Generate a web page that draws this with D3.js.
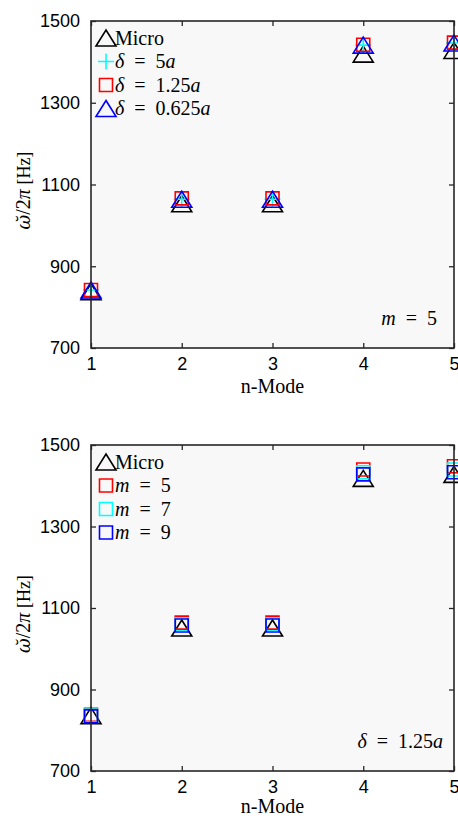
<!DOCTYPE html>
<html><head><meta charset="utf-8">
<script src="https://cdn.jsdelivr.net/npm/d3@7"></script>
<style>html,body{margin:0;padding:0;background:#fff;}svg{display:block;}</style>
</head><body>
<svg id="c" width="458" height="818"></svg>
<script>
const modes = [1, 2, 3, 4, 5];
const xTicks = [1, 2, 3, 4, 5];
const yTicks = [700, 900, 1100, 1300, 1500];

// top panel (m = 5)
const topMicro = [838, 1053, 1053, 1419, 1428];
const topDelta5a = [842, 1064, 1064, 1441, 1446];
const topDelta125a = [842, 1066, 1066, 1442, 1447];
const topDelta0625a = [842, 1064, 1064, 1441, 1446];

// bottom panel (delta = 1.25a)
const botMicro = [836, 1051, 1051, 1418, 1428];
const botM5 = [838, 1064, 1064, 1440, 1448];
const botM7 = [836, 1060, 1060, 1433, 1440];
const botM9 = [834, 1057, 1057, 1428, 1433];

const svg = d3.select("#c");
const sansFont = "'Liberation Sans', Arial, sans-serif";
const serifFont = "'Liberation Serif', 'DejaVu Serif', serif";
const SP = "\u2002";

function markerPath(type) {
  if (type === "tri") return "M0,-8L10,8L-10,8Z";
  if (type === "sq") return "M-6.5,-6.5H6.5V6.5H-6.5Z";
  if (type === "plus") return "M-8,0H8M0,-8V8";
}

function panel(cfg) {
  const g = svg.append("g");
  const x = d3.scaleLinear().domain([1, 5]).range([cfg.left, cfg.right]);
  const y = d3.scaleLinear().domain([700, 1500]).range([cfg.bottom, cfg.top]);

  g.append("rect").attr("x", cfg.left).attr("y", cfg.top)
    .attr("width", cfg.right - cfg.left).attr("height", cfg.bottom - cfg.top)
    .attr("fill", "#f8f8f8");

  cfg.series.forEach(s => {
    g.append("g").selectAll("path").data(s.values).join("path")
      .attr("transform", (d, i) => `translate(${x(modes[i])},${y(d)})`)
      .attr("d", markerPath(s.type))
      .attr("fill", "none").attr("stroke", s.color).attr("stroke-width", 1.6);
  });

  const axColor = "#262626";
  const ax = g.append("g");
  const bottomAxis = d3.axisBottom(x).tickValues(xTicks).tickSize(-5).tickPadding(9).tickFormat(d3.format("d"));
  const topAxis = d3.axisTop(x).tickValues(xTicks).tickSize(-5).tickFormat("");
  const leftAxis = d3.axisLeft(y).tickValues(yTicks).tickSize(-5).tickPadding(11).tickFormat(d3.format("d"));
  const rightAxis = d3.axisRight(y).tickValues(yTicks).tickSize(-5).tickFormat("");
  const gb = ax.append("g").attr("transform", `translate(0,${cfg.bottom})`).call(bottomAxis);
  const gt = ax.append("g").attr("transform", `translate(0,${cfg.top})`).call(topAxis);
  const gl = ax.append("g").attr("transform", `translate(${cfg.left},0)`).call(leftAxis);
  const gr = ax.append("g").attr("transform", `translate(${cfg.right},0)`).call(rightAxis);
  [gb, gt, gl, gr].forEach(a => {
    a.select(".domain").remove();
    a.selectAll("line").attr("stroke", axColor).attr("stroke-width", 1.3);
    a.selectAll("text").attr("fill", "#000").style("font-family", sansFont).style("font-size", "18px");
  });
  ax.append("rect").attr("x", cfg.left).attr("y", cfg.top)
    .attr("width", cfg.right - cfg.left).attr("height", cfg.bottom - cfg.top)
    .attr("fill", "none").attr("stroke", axColor).attr("stroke-width", 1.6);

  g.append("text").attr("x", (cfg.left + cfg.right) / 2).attr("y", cfg.bottom + cfg.xlOff)
    .attr("text-anchor", "middle").style("font-family", serifFont).style("font-size", "20px")
    .text("n-Mode");

  const yl = g.append("text")
    .attr("transform", `translate(30,${(cfg.top + cfg.bottom) / 2 + 6}) rotate(-90)`)
    .attr("text-anchor", "middle").style("font-family", serifFont).style("font-size", "20px");
  yl.append("tspan").style("font-family", "'DejaVu Serif', serif").style("font-style", "italic").style("font-size", "18px").text("ω\u0306");
  yl.append("tspan").text("/2");
  yl.append("tspan").style("font-style", "italic").text("π");
  yl.append("tspan").style("font-size", "18px").text(" [Hz]");

  cfg.legend.forEach((l, i) => {
    const ly = cfg.top + 17 + i * 23.5;
    g.append("path").attr("transform", `translate(${cfg.left + 15},${ly})`)
      .attr("d", markerPath(l.type)).attr("fill", "none")
      .attr("stroke", l.color).attr("stroke-width", 1.6);
    const t = g.append("text").attr("x", cfg.left + 24).attr("y", ly + 6.5)
      .style("font-family", serifFont).style("font-size", "20px");
    l.parts.forEach(p => t.append("tspan").style("font-style", p[1] ? "italic" : "normal").text(p[0]));
  });

  const an = g.append("text").attr("x", cfg.annX).attr("y", cfg.annY)
    .attr("text-anchor", "end").style("font-family", serifFont).style("font-size", "20px");
  cfg.ann.forEach(p => an.append("tspan").style("font-style", p[1] ? "italic" : "normal").text(p[0]));
}

panel({
  left: 91, right: 454, top: 21, bottom: 348, xlOff: 45,
  series: [
    { values: topMicro, type: "tri", color: "#000" },
    { values: topDelta5a, type: "plus", color: "#00ffff" },
    { values: topDelta125a, type: "sq", color: "#ff0000" },
    { values: topDelta0625a, type: "tri", color: "#0000ff" }
  ],
  legend: [
    { type: "tri", color: "#000", parts: [["Micro", false]] },
    { type: "plus", color: "#00ffff", parts: [["δ", true], [SP + "=" + SP + "5", false], ["a", true]] },
    { type: "sq", color: "#ff0000", parts: [["δ", true], [SP + "=" + SP + "1.25", false], ["a", true]] },
    { type: "tri", color: "#0000ff", parts: [["δ", true], [SP + "=" + SP + "0.625", false], ["a", true]] }
  ],
  ann: [["m", true], [SP + "=" + SP + "5", false]], annX: 437, annY: 325
});

panel({
  left: 91, right: 454, top: 445, bottom: 771, xlOff: 42,
  series: [
    { values: botMicro, type: "tri", color: "#000" },
    { values: botM5, type: "sq", color: "#ff0000" },
    { values: botM7, type: "sq", color: "#00ffff" },
    { values: botM9, type: "sq", color: "#0000ff" }
  ],
  legend: [
    { type: "tri", color: "#000", parts: [["Micro", false]] },
    { type: "sq", color: "#ff0000", parts: [["m", true], [SP + "=" + SP + "5", false]] },
    { type: "sq", color: "#00ffff", parts: [["m", true], [SP + "=" + SP + "7", false]] },
    { type: "sq", color: "#0000ff", parts: [["m", true], [SP + "=" + SP + "9", false]] }
  ],
  ann: [["δ", true], [SP + "=" + SP + "1.25", false], ["a", true]], annX: 443, annY: 748
});
</script>
</body></html>
